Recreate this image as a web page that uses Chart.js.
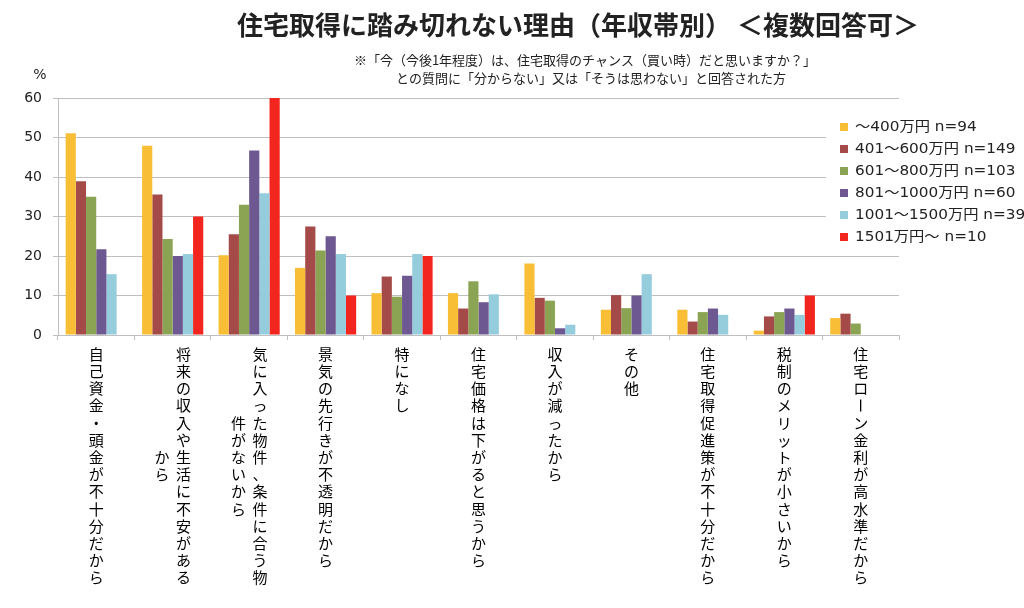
<!DOCTYPE html>
<html lang="ja">
<head>
<meta charset="utf-8">
<title>住宅取得に踏み切れない理由（年収帯別）</title>
<script src="https://cdn.jsdelivr.net/npm/chart.js@4/dist/chart.umd.min.js"></script>
<style>
  html, body { margin: 0; padding: 0; background: #ffffff; }
  canvas { display: block; }
</style>
</head>
<body>
<canvas id="reasonChart" width="1024" height="608"></canvas>
<script>
// --- Data (percent of respondents in each income band) ---

// category labels, each split into vertical columns (first column is drawn on the right)
const categories = [
    ['自己資金・頭金が不十分だから'],
    ['将来の収入や生活に不安がある', 'から'],
    ['気に入った物件、条件に合う物', '件がないから'],
    ['景気の先行きが不透明だから'],
    ['特になし'],
    ['住宅価格は下がると思うから'],
    ['収入が減ったから'],
    ['その他'],
    ['住宅取得促進策が不十分だから'],
    ['税制のメリットが小さいから'],
    ['住宅ローン金利が高水準だから']
];

const seriesLabels = [
    '～400万円 n=94',
    '401～600万円 n=149',
    '601～800万円 n=103',
    '801～1000万円 n=60',
    '1001～1500万円 n=39',
    '1501万円～ n=10'
];

const under400 = [51.1, 47.9, 20.2, 17.0, 10.6, 10.6, 18.1, 6.4, 6.4, 1.1, 4.3];
const from401to600 = [38.9, 35.6, 25.5, 27.5, 14.8, 6.7, 9.4, 10.1, 3.4, 4.7, 5.4];
const from601to800 = [35.0, 24.3, 33.0, 21.4, 9.7, 13.6, 8.7, 6.8, 5.8, 5.8, 2.9];
const from801to1000 = [21.7, 20.0, 46.7, 25.0, 15.0, 8.3, 1.7, 10.0, 6.7, 6.7, 0];
const from1001to1500 = [15.4, 20.5, 35.9, 20.5, 20.5, 10.3, 2.6, 15.4, 5.1, 5.1, 0];
const over1501 = [0, 30.0, 60.0, 10.0, 20.0, 0, 0, 0, 0, 10.0, 0];

const yTicks = [0, 10, 20, 30, 40, 50, 60];

const seriesColors = ['#F8BF36', '#A44A48', '#8BA454', '#6E5891', '#96CDDD', '#F2251F'];

const titleText = '住宅取得に踏み切れない理由（年収帯別） ＜複数回答可＞';
const noteLines = [
    '※「今（今後1年程度）は、住宅取得のチャンス（買い時）だと思いますか？」',
    'との質問に「分からない」又は「そうは思わない」と回答された方'
];

const jpFont = '"Noto Sans CJK JP", "Noto Sans", sans-serif';
const numFont = '"DejaVu Sans", "Noto Sans CJK JP", sans-serif';
const textColor = '#222222';
const gridColor = '#BFBFBF';

// --- Plugins for the Excel-like decorations ---

// title, note and the "%" unit label
const headerPlugin = {
    id: 'header',
    afterDraw(chart) {
        const ctx = chart.ctx;
        ctx.save();
        ctx.fillStyle = textColor;
        ctx.textAlign = 'center';
        ctx.textBaseline = 'middle';
        ctx.font = 'bold 26px ' + jpFont;
        ctx.fillText(titleText, 578, 25);
        ctx.font = '13px ' + jpFont;
        ctx.fillText(noteLines[0], 585, 60);
        ctx.fillText(noteLines[1], 591, 78);
        ctx.font = '14px ' + numFont;
        ctx.fillText('%', 40, 75);
        ctx.restore();
    }
};

// legend box drawn over the right end of the plot, like the original
const boxLegendPlugin = {
    id: 'boxLegend',
    afterDraw(chart) {
        const ctx = chart.ctx;
        ctx.save();
        ctx.fillStyle = '#ffffff';
        ctx.fillRect(826, 112, 198, 136);
        ctx.font = '14px ' + numFont;
        ctx.textAlign = 'left';
        ctx.textBaseline = 'middle';
        chart.data.datasets.forEach((ds, i) => {
            const y = 127 + i * 22;
            ctx.fillStyle = ds.backgroundColor;
            ctx.fillRect(840, y - 4, 8, 8);
            ctx.fillStyle = textColor;
            // the original legend text is a little wider than the font
            ctx.save();
            ctx.translate(855, y);
            ctx.scale(1.09, 1);
            ctx.fillText(ds.label, 0, 0);
            ctx.restore();
        });
        ctx.restore();
    }
};

// vertical (tategaki) category labels under each group
const verticalLabelsPlugin = {
    id: 'verticalLabels',
    afterDraw(chart) {
        const ctx = chart.ctx;
        const xScale = chart.scales.x;
        const pitch = 17.2;
        const colGap = 21.5;
        const top = chart.chartArea.bottom + 19;
        ctx.save();
        ctx.fillStyle = '#000000';
        ctx.font = '15px ' + jpFont;
        ctx.textAlign = 'center';
        ctx.textBaseline = 'middle';
        categories.forEach((cols, i) => {
            const cx = xScale.getPixelForValue(i);
            const longest = Math.max(...cols.map(c => [...c].length));
            cols.forEach((col, j) => {
                const chars = [...col];
                const x = cx + ((cols.length - 1) / 2 - j) * colGap;
                const shift = (longest - chars.length) / 2;
                chars.forEach((ch, k) => {
                    const y = top + (k + shift) * pitch;
                    if (ch === 'ー') {
                        // long vowel mark turns upright in vertical writing
                        ctx.save();
                        ctx.translate(x, y);
                        ctx.rotate(Math.PI / 2);
                        ctx.fillText(ch, 0, 0);
                        ctx.restore();
                    } else {
                        ctx.fillText(ch, x, y);
                    }
                });
            });
        });
        ctx.restore();
    }
};

// --- Chart ---

function buildDatasets() {
    const values = [under400, from401to600, from601to800, from801to1000, from1001to1500, over1501];
    return values.map((data, i) => ({
        label: seriesLabels[i],
        data: data,
        backgroundColor: seriesColors[i],
        borderWidth: 0,
        barPercentage: 1.0,
        categoryPercentage: 0.8
    }));
}

function createReasonChart() {
    const ctx = document.getElementById('reasonChart');
    new Chart(ctx, {
        type: 'bar',
        data: {
            labels: categories.map(c => c.join('')),
            datasets: buildDatasets()
        },
        options: {
            responsive: false,
            animation: false,
            layout: { padding: { top: 98, right: 125, bottom: 268, left: 0 } },
            plugins: {
                legend: { display: false },
                title: { display: false },
                tooltip: { enabled: false }
            },
            scales: {
                x: {
                    offset: true,
                    ticks: { display: false },
                    grid: {
                        offset: true,
                        drawOnChartArea: false,
                        drawTicks: true,
                        tickLength: 5,
                        color: gridColor
                    },
                    border: { color: gridColor, width: 1 },
                    afterFit(scale) { scale.height = 5; }
                },
                y: {
                    min: 0,
                    max: 60,
                    afterBuildTicks(scale) { scale.ticks = yTicks.map(v => ({ value: v })); },
                    ticks: {
                        color: textColor,
                        padding: 11,
                        font: { family: numFont, size: 14 }
                    },
                    grid: { color: gridColor, drawTicks: true, tickLength: 5 },
                    border: { color: gridColor, width: 1 },
                    afterFit(scale) { scale.width = 58; }
                }
            }
        },
        plugins: [headerPlugin, boxLegendPlugin, verticalLabelsPlugin]
    });
}

document.addEventListener('DOMContentLoaded', createReasonChart);
</script>
</body>
</html>
